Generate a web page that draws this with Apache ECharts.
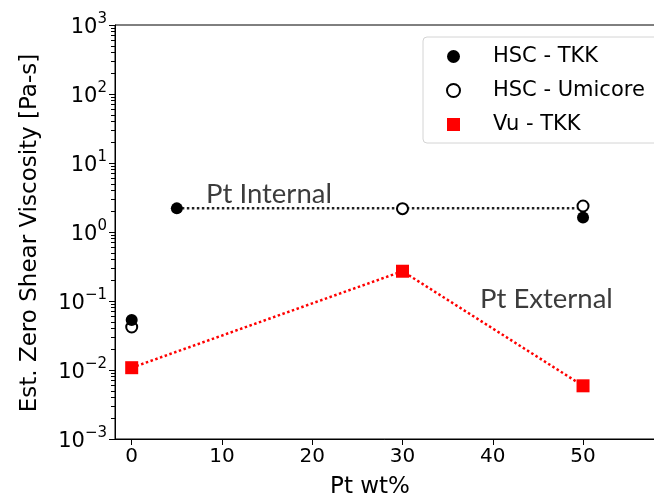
<!DOCTYPE html>
<html>
<head>
<meta charset="utf-8">
<script src="https://cdn.jsdelivr.net/npm/echarts@6/dist/echarts.min.js"></script>
<style>
html,body{margin:0;padding:0;background:#fff;}
#chart{width:654px;height:501px;}
</style>
</head>
<body>
<div id="chart"></div>
<script>
// ---- data ----
var xTicks = [0, 10, 20, 30, 40, 50];
var yDecades = [1e-3, 1e-2, 1e-1, 1e0, 1e1, 1e2, 1e3];

var hscTkkX = [0, 5, 50];
var hscTkkY = [0.053, 2.2, 1.62];

var hscUmiX = [0, 30, 50];
var hscUmiY = [0.042, 2.18, 2.38];

var vuTkkX = [0, 30, 50];
var vuTkkY = [0.0108, 0.27, 0.0059];

var internalX = [5, 50];
var internalY = [2.2, 2.2];

var seriesNames = ['HSC - TKK', 'HSC - Umicore', 'Vu - TKK'];
var annotations = ['Pt Internal', 'Pt External'];
var xTitle = 'Pt wt%';
var yTitle = 'Est. Zero Shear Viscosity [Pa-s]';

// minor ticks of the log axis (2..9 x each decade)
var yMinorTicks = [];
for (var d = 0; d < yDecades.length - 1; d++) {
  for (var m = 2; m <= 9; m++) yMinorTicks.push(yDecades[d] * m);
}

function pairs(xs, ys) { return xs.map(function (x, i) { return [x, ys[i]]; }); }

var chart = echarts.init(document.getElementById('chart'), null, {renderer: 'canvas'});
var FONT = 'DejaVu Sans';
var SQUARE = 'path://M0,0L10,0L10,10L0,10Z';

var option = {
  animation: false,
  backgroundColor: '#fff',
  grid: {
    left: 115, top: 25, right: -10, bottom: 62,
    show: true, borderColor: '#000', borderWidth: 1, backgroundColor: 'transparent',
    containLabel: false, outerBoundsMode: 'none'
  },
  legend: {
    orient: 'vertical',
    left: 423, top: 37,
    padding: [9, 30, 8, 23],
    itemWidth: 13, itemHeight: 13, itemGap: 13,
    borderColor: '#d4d4d4', borderWidth: 1, borderRadius: 4,
    backgroundColor: '#fff',
    data: [
      {name: seriesNames[0], icon: 'circle'},
      {name: seriesNames[1], icon: 'emptyCircle'},
      {name: seriesNames[2], icon: SQUARE}
    ],
    textStyle: {fontFamily: FONT, fontSize: 21, lineHeight: 20, color: '#000', padding: [0, 0, 0, 28]}
  },
  xAxis: {
    type: 'value', min: -1.85, max: 58.97,
    axisLine: {show: true, onZero: false, lineStyle: {color: '#000', width: 1}},
    axisTick: {show: true, length: 6, customValues: xTicks, lineStyle: {color: '#000'}},
    axisLabel: {customValues: xTicks, fontFamily: FONT, fontSize: 20, color: '#000', margin: 8},
    splitLine: {show: false}
  },
  yAxis: [{
    type: 'log', logBase: 10, min: 1e-3, max: 1e3, interval: 1,
    axisLine: {show: true, onZero: false, lineStyle: {color: '#000', width: 1}},
    axisTick: {show: true, length: 6, lineStyle: {color: '#000'}},
    axisLabel: {
      margin: 8, color: '#000',
      formatter: function (v) {
        var e = Math.round(Math.log10(v));
        return '{b|10}{s|' + (e < 0 ? '\u2212' + (-e) : e) + '}';
      },
      rich: {
        b: {fontFamily: FONT, fontSize: 21, lineHeight: 27, color: '#000', padding: [6, 0, 0, 0]},
        s: {fontFamily: FONT, fontSize: 15, lineHeight: 15, color: '#000', verticalAlign: 'top'}
      }
    },
    splitLine: {show: false}
  }, {
    type: 'log', logBase: 10, min: 1e-3, max: 1e3, position: 'left',
    axisLine: {show: false, onZero: false},
    axisTick: {show: true, length: 4, customValues: yMinorTicks, lineStyle: {color: '#000'}},
    axisLabel: {show: false},
    splitLine: {show: false}
  }],
  graphic: [
    {type: 'text', x: 30, y: 233, rotation: Math.PI / 2,
     style: {text: yTitle, x: 0, y: 0, align: 'center', verticalAlign: 'middle', font: '23px "DejaVu Sans"', fill: '#000'}},
    {type: 'text', x: 370, y: 487,
     style: {text: xTitle, align: 'center', verticalAlign: 'middle', font: '23px "DejaVu Sans"', fill: '#000'}},
    {type: 'text', x: 206, y: 194,
     style: {text: annotations[0], align: 'left', verticalAlign: 'middle', font: '27.5px Lato', fill: '#3c3c3c'}},
    {type: 'text', x: 480, y: 299,
     style: {text: annotations[1], align: 'left', verticalAlign: 'middle', font: '27.5px Lato', fill: '#3c3c3c'}}
  ],
  series: [
    {
      name: 'internal', type: 'line', data: pairs(internalX, internalY),
      symbol: 'none', silent: true, z: 1,
      lineStyle: {color: '#222', width: 2.5, type: [2.5, 2.5]}
    },
    {
      name: 'external', type: 'line', data: pairs(vuTkkX, vuTkkY),
      symbol: 'none', silent: true, z: 1,
      lineStyle: {color: '#ff0000', width: 2.5, type: [2.5, 2.5]}
    },
    {
      name: seriesNames[0], type: 'scatter', data: pairs(hscTkkX, hscTkkY),
      symbol: 'circle', symbolSize: 12, z: 3,
      itemStyle: {color: '#000', opacity: 1}
    },
    {
      name: seriesNames[1], type: 'scatter', data: pairs(hscUmiX, hscUmiY),
      symbol: 'emptyCircle', symbolSize: 11, z: 2,
      itemStyle: {color: '#000', borderWidth: 1.5, opacity: 1}
    },
    {
      name: seriesNames[2], type: 'scatter', data: pairs(vuTkkX, vuTkkY),
      symbol: SQUARE, symbolSize: 13, z: 3,
      itemStyle: {color: '#ff0000', opacity: 1}
    }
  ]
};
chart.setOption(option);
</script>
</body>
</html>
